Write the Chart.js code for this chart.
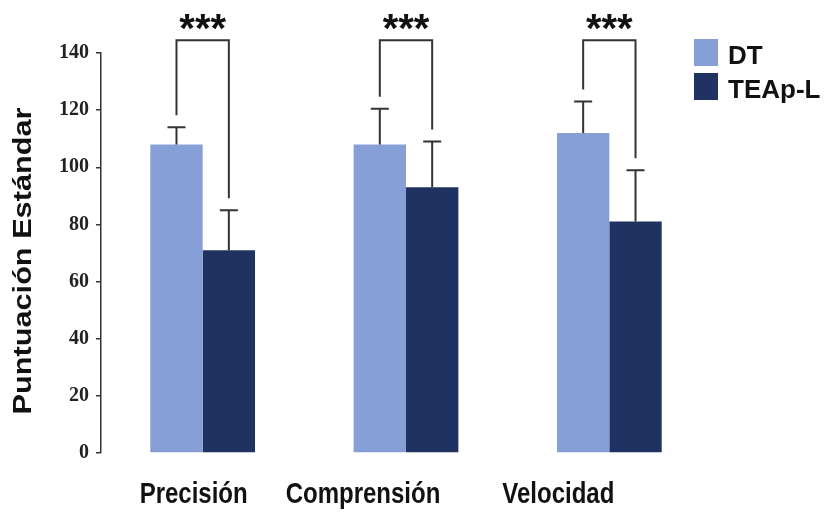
<!DOCTYPE html>
<html lang="es">
<head>
<meta charset="utf-8">
<title>Puntuación Estándar: DT vs TEAp-L</title>
<script src="https://cdn.jsdelivr.net/npm/chart.js@4/dist/chart.umd.min.js"></script>
<style>
  html, body { margin: 0; padding: 0; background: #ffffff; }
  #wrap { width: 828px; height: 512px; position: relative; }
</style>
</head>
<body>
<div id="wrap"><canvas id="chart" width="828" height="512"></canvas></div>
<script>
// Reading-test scores per group (mean and standard deviation)
const categories = ['Precisión', 'Comprensión', 'Velocidad'];
const seriesNames = ['DT', 'TEAp-L'];
const dtMeans = [108, 108, 112];
const dtSD = [6, 12.5, 11];
const teaMeans = [71, 93, 81];
const teaSD = [14, 16, 18];
const significance = ['***', '***', '***'];
const yTicks = [0, 20, 40, 60, 80, 100, 120, 140];

// Styling
const COLOR_DT = '#869fd6';
const COLOR_TEA = '#1f3261';
const INK = '#333333';
const BRACKET_TOP = 144.5;      // bracket height in axis units
const BRACKET_GAP = 12;          // px between whisker cap and bracket leg
const LABEL_SHIFT = [-9, -43, -51]; // horizontal nudge of category labels, px

const decorations = {
  id: 'decorations',
  afterDatasetsDraw(chart) {
    const ctx = chart.ctx;
    const ys = chart.scales.y;
    const metas = chart.data.datasets.map((_, di) => chart.getDatasetMeta(di));

    // upper error whiskers
    ctx.save();
    ctx.strokeStyle = INK;
    ctx.lineWidth = 2;
    chart.data.datasets.forEach((ds, di) => {
      metas[di].data.forEach((bar, i) => {
        const yTop = ys.getPixelForValue(ds.data[i] + ds.errors[i]);
        const yBar = ys.getPixelForValue(ds.data[i]);
        ctx.beginPath();
        ctx.moveTo(bar.x, yBar);
        ctx.lineTo(bar.x, yTop);
        ctx.moveTo(bar.x - 9, yTop);
        ctx.lineTo(bar.x + 9, yTop);
        ctx.stroke();
      });
    });

    // significance brackets with stars
    const ds0 = chart.data.datasets[0], ds1 = chart.data.datasets[1];
    const yBr = ys.getPixelForValue(BRACKET_TOP);
    categories.forEach((_, i) => {
      const a = metas[0].data[i], b = metas[1].data[i];
      const ya = ys.getPixelForValue(ds0.data[i] + ds0.errors[i]) - BRACKET_GAP;
      const yb = ys.getPixelForValue(ds1.data[i] + ds1.errors[i]) - BRACKET_GAP;
      ctx.beginPath();
      ctx.lineJoin = 'miter';
      ctx.moveTo(a.x, ya);
      ctx.lineTo(a.x, yBr);
      ctx.lineTo(b.x, yBr);
      ctx.lineTo(b.x, yb);
      ctx.stroke();

      ctx.fillStyle = '#111111';
      ctx.font = 'bold 40px "Liberation Sans", Arial, sans-serif';
      ctx.textAlign = 'center';
      ctx.textBaseline = 'alphabetic';
      ctx.fillText(significance[i], (a.x + b.x) / 2, yBr + 2);
    });
    ctx.restore();
  },
  afterDraw(chart) {
    const ctx = chart.ctx;
    const xs = chart.scales.x;
    const area = chart.chartArea;

    // category labels under the bars
    ctx.save();
    ctx.fillStyle = '#111111';
    ctx.font = 'bold 30px "Liberation Sans", Arial, sans-serif';
    ctx.textAlign = 'center';
    ctx.textBaseline = 'alphabetic';
    categories.forEach((c, i) => {
      ctx.save();
      ctx.translate(xs.getPixelForValue(i) + LABEL_SHIFT[i], area.bottom + 50);
      ctx.scale(0.8, 1);
      ctx.fillText(c, 0, 0);
      ctx.restore();
    });

    // y axis title
    ctx.save();
    ctx.translate(24, (area.top + area.bottom) / 2 + 8);
    ctx.rotate(-Math.PI / 2);
    ctx.scale(1.18, 1);
    ctx.font = 'bold 26px "Liberation Sans", Arial, sans-serif';
    ctx.textAlign = 'center';
    ctx.textBaseline = 'middle';
    ctx.fillText('Puntuación Estándar', 0, 0);
    ctx.restore();

    // legend
    ctx.font = 'bold 26px "Liberation Sans", Arial, sans-serif';
    ctx.textAlign = 'left';
    ctx.textBaseline = 'alphabetic';
    chart.data.datasets.forEach((ds, di) => {
      const top = 39 + di * 34;
      ctx.fillStyle = ds.backgroundColor;
      ctx.fillRect(694, top, 24, 27);
      ctx.fillStyle = '#111111';
      ctx.fillText(ds.label, 728, top + 25);
    });
    ctx.restore();
  }
};

new Chart(document.getElementById('chart'), {
  type: 'bar',
  data: {
    labels: categories,
    datasets: [
      { label: seriesNames[0], data: dtMeans, errors: dtSD, backgroundColor: COLOR_DT },
      { label: seriesNames[1], data: teaMeans, errors: teaSD, backgroundColor: COLOR_TEA }
    ]
  },
  options: {
    responsive: false,
    animation: false,
    events: [],
    layout: { padding: { top: 53, bottom: 59, left: 0, right: 117 } },
    datasets: { bar: { categoryPercentage: 0.515, barPercentage: 1.0, borderWidth: 0 } },
    plugins: { legend: { display: false }, tooltip: { enabled: false }, title: { display: false } },
    scales: {
      x: { display: false },
      y: {
        min: 0,
        max: 140,
        afterBuildTicks: (scale) => { scale.ticks = yTicks.map(v => ({ value: v })); },
        afterFit: (scale) => { scale.width = 101; },
        border: { display: true, color: INK, width: 1.5 },
        grid: { drawOnChartArea: false, drawTicks: true, tickLength: 5, color: INK, lineWidth: 1.5 },
        ticks: {
          padding: 7,
          color: '#222222',
          font: { family: '"Liberation Serif", "Times New Roman", serif', size: 20, weight: 'bold' }
        }
      }
    }
  },
  plugins: [decorations]
});
</script>
</body>
</html>
